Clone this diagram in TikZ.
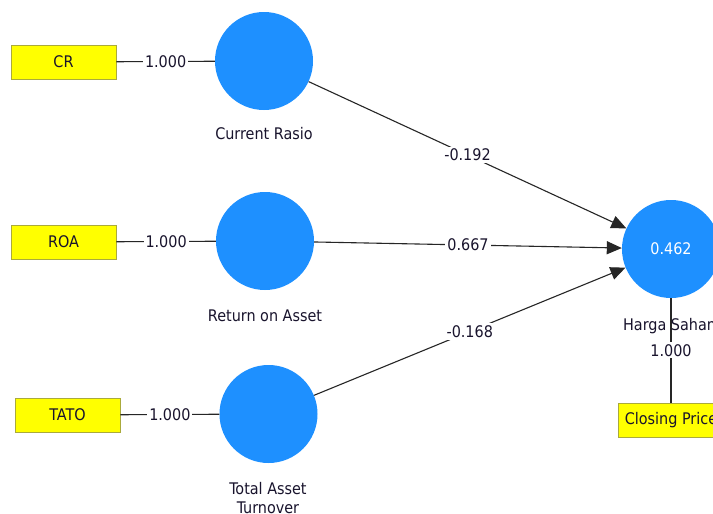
\documentclass[tikz,border=0pt]{standalone}
\usepackage{fontspec}
\setmainfont{DejaVu Sans Condensed}
\usetikzlibrary{arrows.meta}
\definecolor{lvblue}{RGB}{30,144,255}
\definecolor{mvyellow}{RGB}{255,255,0}
\definecolor{mvborder}{RGB}{170,170,60}
\definecolor{txt}{RGB}{25,20,45}
\tikzset{
  lv/.style={circle, fill=lvblue, draw=none, minimum size=98pt, inner sep=0pt, text=white},
  mv/.style={rectangle, fill=mvyellow, draw=mvborder, line width=0.8pt, minimum width=105pt, minimum height=34pt, inner sep=0pt, text=txt},
  lbl/.style={text=txt, inner sep=0pt},
  wt/.style={fill=white, text=txt, inner sep=2pt},
  conn/.style={draw=black!85, line width=1.1pt},
  arr/.style={conn, -{Triangle[length=15pt,width=13pt]}},
}
\begin{document}
\begin{tikzpicture}[x=1pt,y=-1pt,font=\fontsize{16}{19}\selectfont]
\useasboundingbox (0,0) rectangle (713,514);
\clip (0,0) rectangle (713,514);
\fill[white] (0,0) rectangle (713,514);
% indicators
\node[mv] (cr) at (63.5,62) {CR};
\node[mv] (roa) at (63.5,242) {ROA};
\node[mv] (tato) at (67.5,415) {TATO};
\node[mv] (cp) at (671,420) {Closing Price};
% latent variables
\node[lv] (lcr) at (264,61) {};
\node[lv] (lroa) at (265,241) {};
\node[lv] (ltato) at (268.5,414) {};
\node[lv] (hs) at (671,249) {0.462};
% outer loadings
\draw[conn] (cr) -- node[wt] (l1) {1.000} (lcr);
\draw[conn] (roa) -- node[wt] (l2) {1.000} (lroa);
\draw[conn] (tato) -- node[wt] (l3) {1.000} (ltato);
\draw[conn] (hs) -- node[wt] (l4) {1.000} (cp);
% paths
\draw[arr] (lcr) -- node[wt] (p1) {-0.192} (hs);
\draw[arr] (lroa) -- node[wt] (p2) {0.667} (hs);
\draw[arr] (ltato) -- node[wt] (p3) {-0.168} (hs);
% names
\node[lbl] (n1) at (264,134) {Current Rasio};
\node[lbl] (n2) at (265,316) {Return on Asset};
\node[lbl, align=center] (n3) at (268,498) {Total Asset\\Turnover};
\node[lbl] (n4) at (672,326) {Harga Saham};
\end{tikzpicture}
\end{document}
